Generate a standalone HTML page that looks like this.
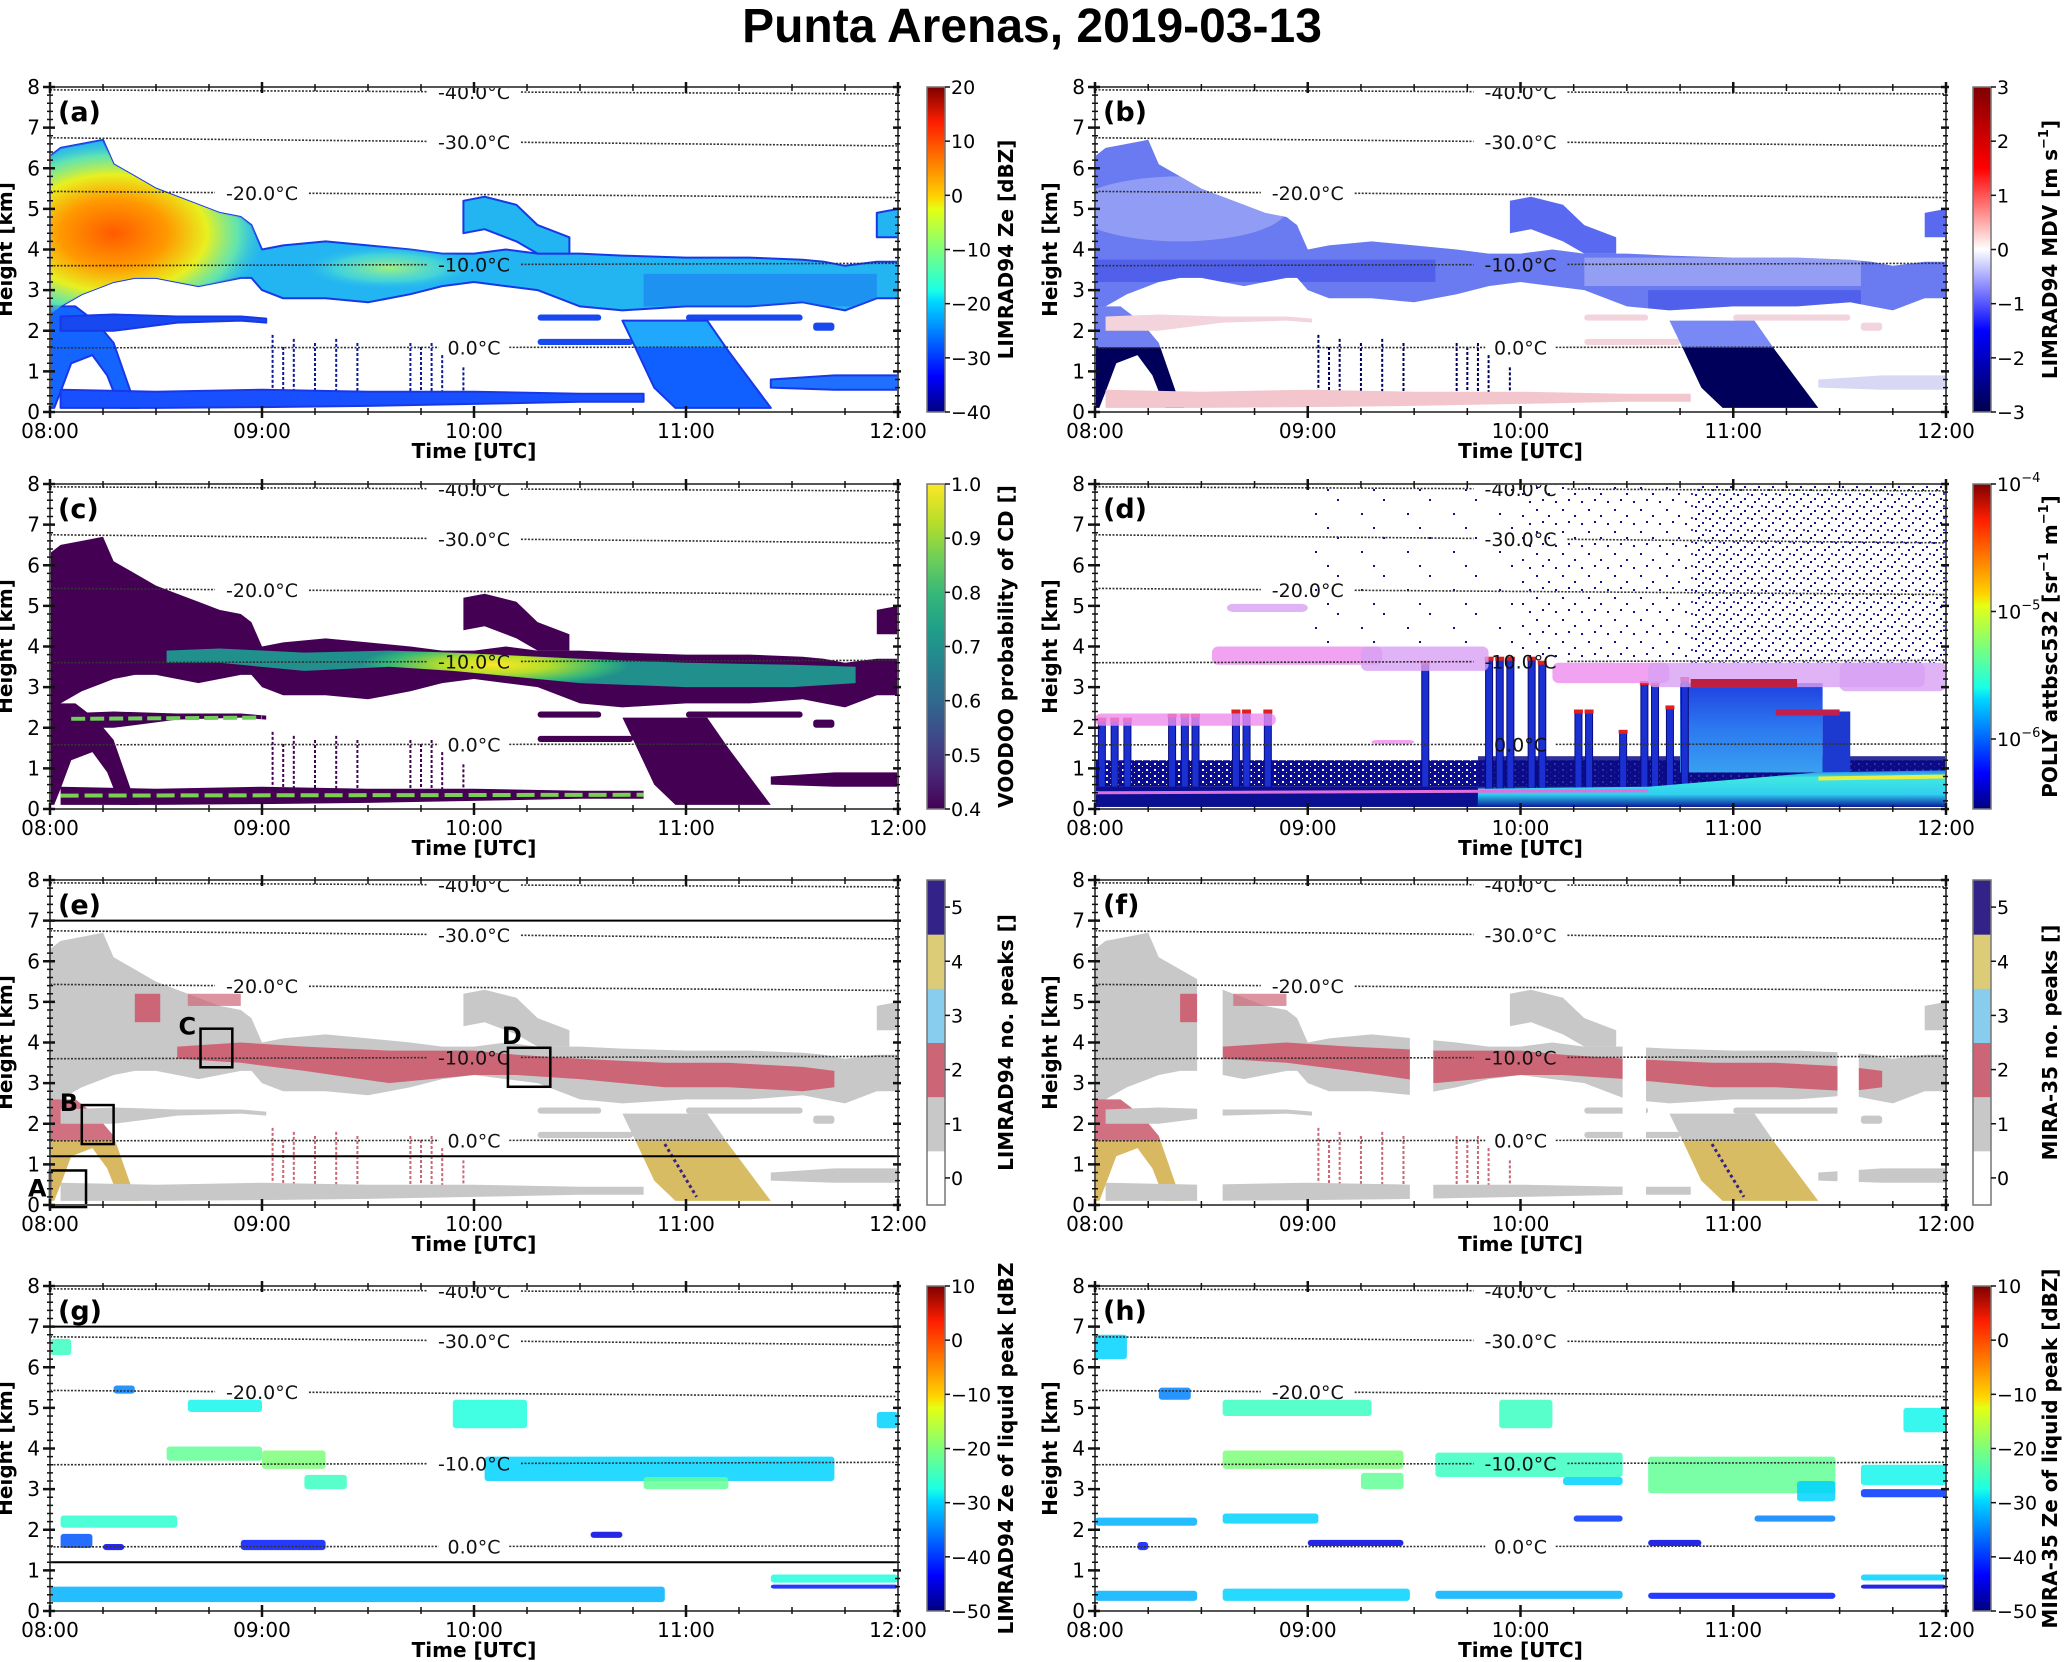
<!DOCTYPE html>
<html><head><meta charset="utf-8">
<style>
html,body{margin:0;padding:0;background:#fff;}
svg{display:block;}
text{font-family:"DejaVu Sans","Liberation Sans",sans-serif;}
</style></head>
<body>
<svg id="fig" xmlns="http://www.w3.org/2000/svg" width="2067" height="1662" viewBox="0 0 2067 1662">
<defs id="defs">
<pattern id="noiseSparse" width="46" height="38" patternUnits="userSpaceOnUse"><rect x="3" y="5" width="2" height="2" fill="#10108a"/><rect x="27" y="19" width="2" height="2" fill="#10108a"/><rect x="39" y="33" width="2" height="2" fill="#10108a"/></pattern>
<pattern id="noiseMed" width="26" height="22" patternUnits="userSpaceOnUse"><rect x="2" y="3" width="2" height="2" fill="#10108a"/><rect x="14" y="9" width="2" height="2" fill="#10108a"/><rect x="21" y="17" width="2" height="2" fill="#10108a"/><rect x="8" y="15" width="2" height="2" fill="#10108a"/></pattern>
<pattern id="noiseDense" width="14" height="12" patternUnits="userSpaceOnUse"><rect x="1" y="2" width="2" height="2" fill="#10108a"/><rect x="8" y="6" width="2" height="2" fill="#10108a"/><rect x="4" y="9" width="2" height="2" fill="#10108a"/><rect x="11" y="1" width="2" height="2" fill="#3a3ad0"/></pattern>
<pattern id="noiseLow" width="8" height="6" patternUnits="userSpaceOnUse"><rect x="0" y="0" width="8" height="6" fill="#0c0c90"/><rect x="2" y="1" width="2" height="2" fill="#fff"/><rect x="6" y="4" width="1" height="1" fill="#fff"/></pattern>
</defs>
<text x="1032" y="42" text-anchor="middle" font-size="48" font-weight="bold" style="font-family:'Liberation Sans',sans-serif">Punta Arenas, 2019-03-13</text>
</svg>
<script>
// ---------- data ----------
const timeTickLabels = ['08:00','09:00','10:00','11:00','12:00'];
const heightTicks = [0,1,2,3,4,5,6,7,8];
const tempLabels = ['-40.0°C','-30.0°C','-20.0°C','-10.0°C','0.0°C'];
const tempHLeft = [7.93,6.75,5.43,3.60,1.58];
const tempHRight = [7.83,6.55,5.28,3.66,1.60];
const tempLabelT = [2.0,2.0,1.0,2.0,2.0];

const upperCloudT = [0.00,0.05,0.15,0.25,0.30,0.40,0.50,0.60,0.70,0.80,0.90,0.95,1.00,1.10,1.30,1.50,1.70,1.85,2.00,2.15,2.30,2.50,2.70,3.00,3.30,3.55,3.65,3.75,3.90,4.00];
const upperCloudTop = [6.3,6.5,6.6,6.7,6.1,5.8,5.5,5.3,5.1,4.9,4.8,4.6,4.0,4.1,4.2,4.1,4.0,3.9,3.9,4.0,3.9,3.9,3.85,3.8,3.8,3.75,3.7,3.6,3.7,3.7];
const upperCloudBase = [2.4,2.6,2.9,3.1,3.2,3.3,3.3,3.2,3.1,3.2,3.3,3.3,3.0,2.8,2.8,2.7,2.9,3.1,3.2,3.1,3.0,2.6,2.5,2.6,2.6,2.7,2.6,2.5,2.8,2.8];
const streakT = [0.00,0.12,0.22,0.30,0.38,0.42,0.33,0.27,0.20,0.10,0.05,0.02,0.00];
const streakH = [2.6,2.6,2.2,1.7,0.5,0.1,0.1,0.9,1.4,1.2,0.5,0.1,0.1];
const midLayerT = [0.05,0.30,0.60,0.90,1.02];
const midLayerTop = [2.35,2.40,2.35,2.35,2.30];
const midLayerBase = [2.00,2.00,2.20,2.25,2.20];
const upperPatchT = [1.95,2.05,2.20,2.30,2.45];
const upperPatchTop = [5.2,5.3,5.1,4.6,4.3];
const upperPatchBase = [4.4,4.5,4.2,3.9,3.9];
const rightPatchT = [3.90,4.00];
const rightPatchTop = [4.9,5.0];
const rightPatchBase = [4.3,4.3];
const precipT = [2.70,3.10,3.20,3.40,2.95,2.85,2.76];
const precipH = [2.25,2.25,1.50,0.10,0.10,0.60,1.60];
const lowLayerT = [0.05,0.50,1.00,1.50,2.00,2.50,2.80];
const lowLayerTop = [0.55,0.50,0.55,0.50,0.50,0.45,0.45];
const lowLayerBase = [0.10,0.10,0.12,0.15,0.20,0.25,0.25];
const lowRightT = [3.40,3.70,4.00];
const lowRightTop = [0.80,0.90,0.90];
const lowRightBase = [0.60,0.55,0.55];
const midPatchT0 = [2.30,3.00,2.30,3.60];
const midPatchT1 = [2.60,3.55,2.75,3.70];
const midPatchH0 = [2.25,2.25,1.65,2.00];
const midPatchH1 = [2.40,2.40,1.80,2.20];
const virgaT = [1.05,1.10,1.15,1.25,1.35,1.45,1.70,1.75,1.80,1.85,1.95];
const virgaTop = [1.9,1.6,1.8,1.7,1.8,1.7,1.7,1.6,1.7,1.4,1.1];

const cdBandT = [0.55,0.80,1.20,1.60,1.90,2.10,2.50,3.00,3.50,3.80];
const cdBandTop = [3.90,3.95,3.85,3.90,3.85,3.80,3.70,3.60,3.55,3.50];
const cdBandBase = [3.60,3.60,3.40,3.50,3.40,3.30,3.10,3.00,3.00,3.10];

const peakBandT = [0.60,0.90,1.20,1.60,2.00,2.20,2.50,2.90,3.20,3.55,3.70];
const peakBandTop = [3.9,4.0,3.9,3.8,3.8,3.7,3.6,3.5,3.5,3.4,3.3];
const peakBandBase = [3.6,3.5,3.3,3.0,3.2,3.2,3.1,2.9,2.9,2.8,2.9];
const dataGapT0 = [0.48,1.48,2.48,3.49];
const dataGapT1 = [0.60,1.59,2.59,3.59];
const boxNames = ['A','B','C','D'];
const boxT0 = [0.00,0.15,0.71,2.16];
const boxT1 = [0.17,0.30,0.86,2.36];
const boxH0 = [-0.05,1.50,3.39,2.91];
const boxH1 = [0.85,2.46,4.34,3.87];

const lidarStripeT = [0.03,0.09,0.15,0.36,0.42,0.47,0.66,0.71,0.81,1.55,1.85,1.90,1.95,2.05,2.10,2.27,2.32,2.48,2.58,2.63,2.70,2.77];
const lidarStripeTop = [2.2,2.2,2.2,2.3,2.3,2.3,2.4,2.4,2.4,3.6,3.7,3.7,3.7,3.7,3.6,2.4,2.4,1.9,3.1,3.1,2.5,3.2];
const pinkT0 = [0.55,1.25,2.15,2.60,0.00,0.62,1.30,3.50];
const pinkT1 = [1.35,1.85,2.70,3.90,0.85,1.00,1.50,4.00];
const pinkH0 = [3.55,3.40,3.10,3.00,2.05,4.85,1.60,2.90];
const pinkH1 = [4.00,4.00,3.60,3.60,2.35,5.05,1.70,3.60];

const gPatchT0 = [0.00,0.30,0.65,0.55,1.00,1.20,0.05,0.05,2.05,2.80,1.90,3.90,0.00,3.40,3.40,0.90,2.55,0.25];
const gPatchT1 = [0.10,0.40,1.00,1.00,1.30,1.40,0.60,0.20,3.70,3.20,2.25,4.00,2.90,4.00,4.00,1.30,2.70,0.35];
const gPatchH0 = [6.30,5.35,4.90,3.70,3.50,3.00,2.05,1.55,3.20,3.00,4.50,4.50,0.22,0.70,0.55,1.50,1.80,1.50];
const gPatchH1 = [6.70,5.55,5.20,4.05,3.95,3.35,2.35,1.90,3.80,3.30,5.20,4.90,0.60,0.90,0.65,1.75,1.95,1.65];
const gPatchZe = [-25,-35,-28,-22,-20,-25,-26,-38,-30,-22,-27,-30,-32,-27,-42,-42,-45,-44];

const hPatchT0 = [0.60,0.60,1.25,1.60,2.20,2.60,3.30,3.60,3.60,0.00,0.60,2.25,3.10,0.20,1.00,2.60,0.00,0.60,1.60,2.60,3.60,3.60,1.90,3.80,0.00,0.30];
const hPatchT1 = [1.30,1.45,1.45,2.48,2.48,3.48,3.48,4.00,4.00,0.48,1.05,2.48,3.48,0.25,1.45,2.85,0.48,1.48,2.48,3.48,4.00,4.00,2.15,4.00,0.15,0.45];
const hPatchH0 = [4.80,3.50,3.00,3.30,3.10,2.90,2.70,3.10,2.80,2.10,2.15,2.20,2.20,1.50,1.60,1.60,0.25,0.25,0.30,0.30,0.75,0.55,4.50,4.40,6.20,5.20];
const hPatchH1 = [5.20,3.95,3.40,3.90,3.30,3.80,3.20,3.60,3.00,2.30,2.40,2.35,2.35,1.70,1.75,1.75,0.50,0.55,0.50,0.45,0.90,0.65,5.20,5.00,6.80,5.50];
const hPatchZe = [-25,-20,-22,-25,-30,-22,-30,-28,-40,-32,-30,-40,-35,-42,-45,-45,-32,-30,-32,-42,-30,-45,-25,-28,-30,-35];

const cbTicksA = [-40,-30,-20,-10,0,10,20];
const cbTicksB = [-3,-2,-1,0,1,2,3];
const cbTicksC = [0.4,0.5,0.6,0.7,0.8,0.9,1.0];
const cbTicksD = [-4,-5,-6];
const cbTicksE = [0,1,2,3,4,5];
const cbTicksG = [-50,-40,-30,-20,-10,0,10];

// ---------- helpers ----------
const NS = 'http://www.w3.org/2000/svg';
const svg = document.getElementById('fig');
const defs = document.getElementById('defs');
function mk(tag, attrs, parent){ const e=document.createElementNS(NS,tag); for(const k in attrs) e.setAttribute(k,attrs[k]); parent.appendChild(e); return e; }
const JET = [[0,'#00007f'],[0.11,'#0000ff'],[0.34,'#00d8ff'],[0.375,'#1affe5'],[0.5,'#7dff7a'],[0.625,'#e4ff13'],[0.66,'#ffd400'],[0.89,'#ff1e00'],[1,'#7f0000']];
const SEISMIC = [[0,'#00004c'],[0.25,'#0000ff'],[0.5,'#ffffff'],[0.75,'#ff0000'],[1,'#7f0000']];
const VIRIDIS = [[0,'#440154'],[0.11,'#482878'],[0.22,'#3e4989'],[0.33,'#31688e'],[0.44,'#26828e'],[0.55,'#1f9e89'],[0.66,'#35b779'],[0.77,'#6ece58'],[0.88,'#b5de2b'],[1,'#fde725']];
const PEAKS = ['#ffffff','#c8c8c8','#cc6677','#88ccee','#ddcc77','#332288'];
function hex2rgb(h){return [parseInt(h.slice(1,3),16),parseInt(h.slice(3,5),16),parseInt(h.slice(5,7),16)];}
function cmap(stops,f){ f=Math.max(0,Math.min(1,f)); for(let i=1;i<stops.length;i++){ if(f<=stops[i][0]){ const a=stops[i-1],b=stops[i]; const u=(f-a[0])/(b[0]-a[0]||1); const ca=hex2rgb(a[1]),cb=hex2rgb(b[1]); return 'rgb('+ca.map((v,k)=>Math.round(v+(cb[k]-v)*u)).join(',')+')'; } } return stops[stops.length-1][1]; }
let gradN=0;
function vGrad(stops){ const id='vg'+(gradN++); const g=mk('linearGradient',{id:id,x1:0,y1:1,x2:0,y2:0},defs); stops.forEach(s=>mk('stop',{offset:s[0],'stop-color':s[1]},g)); return 'url(#'+id+')'; }
function radGrad(cx,cy,r,stops,sx){ const id='rg'+(gradN++); const g=mk('radialGradient',{id:id,gradientUnits:'userSpaceOnUse',cx:cx,cy:cy,r:r,gradientTransform:'translate('+cx+' '+cy+') scale('+sx+' 1) translate('+(-cx)+' '+(-cy)+')'},defs); stops.forEach(s=>mk('stop',{offset:s[0],'stop-color':s[1],'stop-opacity':s.length>2?s[2]:1},g)); return 'url(#'+id+')'; }
function ptsStr(p){ return p.map(q=>q[0].toFixed(1)+','+q[1].toFixed(1)).join(' '); }
function bandPts(P,T,top,base){ const a=T.map((t,i)=>[P.X(t),P.Y(top[i])]); const b=T.map((t,i)=>[P.X(t),P.Y(base[i])]).reverse(); return a.concat(b); }
function vertPts(P,T,H){ return T.map((t,i)=>[P.X(t),P.Y(H[i])]); }
function poly(parent,pts,fill,stroke,sw){ return mk('polygon',{points:ptsStr(pts),fill:fill,stroke:stroke||'none','stroke-width':sw||0,'stroke-linejoin':'round'},parent); }

const rowTops=[87,484,880,1286];
const PH=325;
function makePanel(letter,col,row){
  const x0=col?1095:50, x1=col?1946:898, y0=rowTops[row], y1=y0+PH;
  const P={x0,x1,y0,y1,X:t=>x0+t/4*(x1-x0),Y:h=>y1-h/8*(y1-y0)};
  P.g=mk('g',{},svg);
  
  
  const cp=mk('clipPath',{id:'clip-'+letter},defs);
  mk('rect',{x:x0,y:y0,width:x1-x0,height:y1-y0},cp);
  P.c=mk('g',{'clip-path':'url(#clip-'+letter+')'},P.g);
  
  
  P.letter=letter; P.col=col;
  return P;
}
function tempLines(P){
  const g=mk('g',{},P.c);
  
  
  tempLabels.forEach((lab,i)=>{
    const yAt=t=>P.Y(tempHLeft[i]+(tempHRight[i]-tempHLeft[i])*t/4);
    const lx=P.X(tempLabelT[i]);
    const tx=mk('text',{x:lx,y:yAt(tempLabelT[i])+7,'text-anchor':'middle','font-size':19,fill:'#111'},g);
    tx.textContent=lab;
    
    
    const w=lab.length*11.7/2+6;
    const l1=mk('line',{x1:P.x0,y1:yAt(0),x2:lx-w,y2:yAt((lx-w-P.x0)/(P.x1-P.x0)*4),stroke:'#333','stroke-width':1.6,'stroke-dasharray':'2,1.5'},g);
    
    
    const l2=mk('line',{x1:lx+w,y1:yAt((lx+w-P.x0)/(P.x1-P.x0)*4),x2:P.x1,y2:yAt(4),stroke:'#333','stroke-width':1.6,'stroke-dasharray':'2,1.5'},g);
    
    
  });
}
function axes(P){
  const {x0,x1,y0,y1}=P;
  const g=mk('g',{},P.g);
  
  
  mk('rect',{x:x0,y:y0,width:x1-x0,height:y1-y0,fill:'none',stroke:'#555','stroke-width':2},g);
  for(let q=0;q<=16;q++){ const t=q/4, x=P.X(t), maj=q%4===0;
    mk('line',{x1:x,y1:y1-(maj?6:4),x2:x,y2:y1+(maj?6:3),stroke:'#111','stroke-width':maj?2.5:1.5},g);
    mk('line',{x1:x,y1:y0-(maj?5:3),x2:x,y2:y0+(maj?6:4),stroke:'#111','stroke-width':maj?2.5:1.5},g);
  }
  timeTickLabels.forEach((lab,i)=>{ const t=mk('text',{x:P.X(i),y:y1+26,'text-anchor':'middle','font-size':20},g); t.textContent=lab;
    
     });
  for(let q=0;q<=40;q++){ const h=q/5, y=P.Y(h), maj=q%5===0;
    mk('line',{x1:x0-(maj?7:3),y1:y,x2:x0+(maj?5:3),y2:y,stroke:'#111','stroke-width':maj?2.5:1.5},g);
    mk('line',{x1:x1-(maj?5:3),y1:y,x2:x1+(maj?3:2),y2:y,stroke:'#111','stroke-width':maj?2.5:1.5},g);
  }
  heightTicks.forEach(h=>{ const t=mk('text',{x:x0-10,y:P.Y(h)+7,'text-anchor':'end','font-size':20},g); t.textContent=String(h);
    
     });
  const xl=mk('text',{x:(x0+x1)/2,y:y1+46,'text-anchor':'middle','font-size':20,'font-weight':'bold'},g); xl.textContent='Time [UTC]';
  
  
  const yx=x0-38, yc=(y0+y1)/2;
  const yl=mk('text',{x:yx,y:yc,'text-anchor':'middle','font-size':20,'font-weight':'bold',transform:'rotate(-90 '+yx+' '+yc+')'},g); yl.textContent='Height [km]';
  
  
  const pl=mk('text',{x:x0+8,y:y0+34,'font-size':27,'font-weight':'bold'},g); pl.textContent='('+P.letter+')';
  
  
}
function colorbar(P,fill,ticks,pos,labels,title){
  const cx0=P.col?1973:927, w=18, y0=P.y0, y1=P.y1;
  const g=mk('g',{},svg);
  
  
  if(typeof fill==='string') mk('rect',{x:cx0,y:y0,width:w,height:y1-y0,fill:fill},g);
  else fill.forEach((c,i)=>mk('rect',{x:cx0,y:y1-(i+1)*(y1-y0)/fill.length,width:w,height:(y1-y0)/fill.length+0.5,fill:c},g));
  mk('rect',{x:cx0,y:y0,width:w,height:y1-y0,fill:'none',stroke:'#777','stroke-width':1.5},g);
  ticks.forEach((v,i)=>{ const y=y1-pos(v)*(y1-y0);
    mk('line',{x1:cx0+w,y1:y,x2:cx0+w+5,y2:y,stroke:'#111','stroke-width':1.5},g);
    const t=mk('text',{x:cx0+w+6,y:y+7,'font-size':19},g);
    const lab=labels[i];
    if(Array.isArray(lab)){ t.textContent=lab[0]; const s=mk('tspan',{dy:-9,'font-size':13},t); s.textContent=lab[1]; }
    else t.textContent=lab;
    
    
  });
  const tx=P.col?2057:1013, tc=(y0+y1)/2;
  const t=mk('text',{x:tx,y:tc,'text-anchor':'middle','font-size':20,'font-weight':'bold',transform:'rotate(-90 '+tx+' '+tc+')'},g);
  title.forEach((part,i)=>{ const s=mk('tspan',i%2?{dy:-9,'font-size':13}:{dy:i?9:0},t); s.textContent=part; });
  
  
}
const fmtMinus=v=>(v<0?'\u2212':'')+Math.abs(v);

// ---------- shared radar cloud drawing ----------
function radarClouds(P,S){
  const c=P.c;
  const main=poly(c,bandPts(P,upperCloudT,upperCloudTop,upperCloudBase),S.main,S.edge,S.ew);
  
  
  const st=poly(c,vertPts(P,streakT,streakH),S.streak,S.edge,S.ew);
  
  
  const ml=poly(c,bandPts(P,midLayerT,midLayerTop,midLayerBase),S.mid,S.edge,S.ew);
  
  
  const up=poly(c,bandPts(P,upperPatchT,upperPatchTop,upperPatchBase),S.main2||S.main,S.edge,S.ew);
  
  
  const rp=poly(c,bandPts(P,rightPatchT,rightPatchTop,rightPatchBase),S.main2||S.main,S.edge,S.ew);
  
  
  midPatchT0.forEach((t0,i)=>{ const r=mk('rect',{x:P.X(t0),y:P.Y(midPatchH1[i]),width:P.X(midPatchT1[i])-P.X(t0),height:P.Y(midPatchH0[i])-P.Y(midPatchH1[i]),fill:S.mid,rx:3},c);
    
     });
  virgaT.forEach((t,i)=>{ const l=mk('line',{x1:P.X(t),y1:P.Y(virgaTop[i]),x2:P.X(t),y2:P.Y(0.3),stroke:S.virga,'stroke-width':2,'stroke-dasharray':'3,2'},c);
    
     });
  const pr=poly(c,vertPts(P,precipT,precipH),S.precip,S.edge,S.ew);
  
  
  const ll=poly(c,bandPts(P,lowLayerT,lowLayerTop,lowLayerBase),S.low,S.edge,S.ew);
  
  
  const lr=poly(c,bandPts(P,lowRightT,lowRightTop,lowRightBase),S.lowR||S.low,S.edge,S.ew);
  
  
}
function precipGrad(P,top,bottom){ const id='pg'+(gradN++); const g=mk('linearGradient',{id:id,gradientUnits:'userSpaceOnUse',x1:0,y1:P.Y(2.25),x2:0,y2:P.Y(0)},defs);
  const f=(2.25-1.6)/2.25; [[0,top],[f,top],[f+0.01,bottom],[1,bottom]].forEach(s=>mk('stop',{offset:s[0],'stop-color':s[1]},g)); return 'url(#'+id+')'; }

// ---------- panel a ----------
(function(){
  const P=makePanel('a',0,0);
  radarClouds(P,{main:'#23b4f2',edge:'#1838e8',ew:2,streak:'#1464ff',mid:'#1848f0',precip:precipGrad(P,'#20a8ff','#1060ff'),low:'#1850ff',lowR:'#2070ff',virga:'#0a1a9a'});
  const cp=mk('clipPath',{id:'core-a'},defs);
  poly(cp,bandPts(P,upperCloudT,upperCloudTop,upperCloudBase),'#000');
  const gcore=mk('g',{'clip-path':'url(#core-a)'},P.c);
  
  
  mk('ellipse',{cx:P.X(0.3),cy:P.Y(4.4),rx:P.X(0.75)-P.X(0),ry:P.Y(2.0)-P.Y(4.4),fill:radGrad(P.X(0.3),P.Y(4.4),P.Y(2.0)-P.Y(4.4),[[0,'#ff5a00'],[0.35,'#ff9a00'],[0.6,'#e8f020'],[0.8,'#70f0a0',0.8],[1,'#23b4f2',0]],1.6)},gcore);
  mk('ellipse',{cx:P.X(1.6),cy:P.Y(3.55),rx:P.X(0.7)-P.X(0),ry:P.Y(3)-P.Y(3.55),fill:radGrad(P.X(1.6),P.Y(3.55),P.Y(3)-P.Y(3.55),[[0,'#a0f080'],[0.6,'#50e0d0',0.7],[1,'#23b4f2',0]],4)},gcore);
  mk('rect',{x:P.X(2.8),y:P.Y(3.4),width:P.X(3.9)-P.X(2.8),height:P.Y(2.6)-P.Y(3.4),fill:'#1868f0',opacity:0.45},gcore);
  tempLines(P); axes(P);
  colorbar(P,vGrad(JET),cbTicksA,v=>(v+40)/60,cbTicksA.map(fmtMinus),['LIMRAD94 Ze [dBZ]']);
})();
// ---------- panel b ----------
(function(){
  const P=makePanel('b',1,0);
  radarClouds(P,{main:'#6a7af0',main2:'#5a6af0',edge:'none',ew:0,streak:precipGrad(P,'#7080f0','#00005a'),mid:'#f3d4dc',precip:precipGrad(P,'#7888f4','#00005a'),low:'#f2c6cc',lowR:'#d8d8f4',virga:'#000060'});
  const cp=mk('clipPath',{id:'core-b'},defs);
  poly(cp,bandPts(P,upperCloudT,upperCloudTop,upperCloudBase),'#000');
  const gc=mk('g',{'clip-path':'url(#core-b)'},P.c);
  
  
  mk('ellipse',{cx:P.X(0.4),cy:P.Y(5.0),rx:P.X(0.5)-P.X(0),ry:P.Y(4.2)-P.Y(5.0),fill:'#b8c0f8',opacity:0.5},gc);
  mk('rect',{x:P.X(0),y:P.Y(3.75),width:P.X(1.6)-P.X(0),height:P.Y(3.2)-P.Y(3.75),fill:'#2030e0',opacity:0.35},gc);
  mk('rect',{x:P.X(2.6),y:P.Y(3.0),width:P.X(3.6)-P.X(2.6),height:P.Y(2.5)-P.Y(3.0),fill:'#2030e0',opacity:0.35},gc);
  mk('rect',{x:P.X(2.3),y:P.Y(3.8),width:P.X(3.6)-P.X(2.3),height:P.Y(3.1)-P.Y(3.8),fill:'#c8ccf8',opacity:0.45},gc);
  tempLines(P); axes(P);
  colorbar(P,vGrad(SEISMIC),cbTicksB,v=>(v+3)/6,cbTicksB.map(fmtMinus),['LIMRAD94 MDV [m s','\u22121',']']);
})();
// ---------- panel c ----------
(function(){
  const P=makePanel('c',0,1);
  radarClouds(P,{main:'#440154',edge:'none',ew:0,streak:'#440154',mid:'#440154',precip:'#440154',low:'#440154',virga:'#440154'});
  const b=poly(P.c,bandPts(P,cdBandT,cdBandTop,cdBandBase),radGrad(P.X(2.1),P.Y(3.55),P.Y(3.0)-P.Y(3.55),[[0,'#fde725'],[0.4,'#b5de2b'],[0.8,'#35b779'],[1,'#21908d']],6),'none');
  
  
  const m=mk('line',{x1:P.X(0.1),y1:P.Y(2.22),x2:P.X(1.0),y2:P.Y(2.25),stroke:'#6ece58','stroke-width':4,'stroke-dasharray':'14,5'},P.c);
  
  
  const l=mk('line',{x1:P.X(0.05),y1:P.Y(0.33),x2:P.X(2.8),y2:P.Y(0.35),stroke:'#7ad151','stroke-width':4,'stroke-dasharray':'18,6'},P.c);
  
  
  tempLines(P); axes(P);
  colorbar(P,vGrad(VIRIDIS),cbTicksC,v=>(v-0.4)/0.6,cbTicksC.map(v=>v.toFixed(1)),['VOODOO probability of CD []']);
})();
// ---------- panel d ----------
(function(){
  const P=makePanel('d',1,1), c=P.c;
  const nz=[['noiseSparse',1.0,2.0,3.9],['noiseMed',2.0,2.8,3.7],['noiseDense',2.8,4.0,3.6]];
  nz.forEach(n=>{ const r=mk('rect',{x:P.X(n[1]),y:P.Y(8),width:P.X(n[2])-P.X(n[1]),height:P.Y(n[3])-P.Y(8),fill:'url(#'+n[0]+')'},c);
    
     });
  const ln=mk('rect',{x:P.X(0),y:P.Y(1.2),width:P.X(4)-P.X(0),height:P.Y(0.55)-P.Y(1.2),fill:'url(#noiseLow)'},c);
  
  
  const db=mk('rect',{x:P.X(1.8),y:P.Y(1.3),width:P.X(4)-P.X(1.8),height:P.Y(0.5)-P.Y(1.3),fill:'#0c0c88',opacity:0.85},c);
  
  
  const bl=mk('rect',{x:P.X(2.75),y:P.Y(3.1),width:P.X(3.42)-P.X(2.75),height:P.Y(0.9)-P.Y(3.1),fill:vGrad([[0,'#38a0f0'],[0.5,'#2c78f0'],[1,'#2040e0']])},c);
  
  
  const bl2=mk('rect',{x:P.X(3.42),y:P.Y(2.4),width:P.X(3.55)-P.X(3.42),height:P.Y(0.9)-P.Y(2.4),fill:'#1c3ad0'},c);
  
  
  lidarStripeT.forEach((t,i)=>{ const r=mk('rect',{x:P.X(t)-3,y:P.Y(lidarStripeTop[i]),width:7,height:P.Y(0.5)-P.Y(lidarStripeTop[i]),fill:'#1a30d0',stroke:'#0a0a80','stroke-width':1},c);
    
    
    const d=mk('rect',{x:P.X(t)-4,y:P.Y(lidarStripeTop[i])-2,width:9,height:4,fill:'#e02020'},c);
    
     });
  pinkT0.forEach((t0,i)=>{ const r=mk('rect',{x:P.X(t0),y:P.Y(pinkH1[i]),width:P.X(pinkT1[i])-P.X(t0),height:P.Y(pinkH0[i])-P.Y(pinkH1[i]),rx:6,fill:i%2?'#d8a0f4':'#ee8cee',opacity:0.8},c);
    
     });
  const rl=mk('rect',{x:P.X(2.8),y:P.Y(3.2),width:P.X(3.3)-P.X(2.8),height:P.Y(3.0)-P.Y(3.2),fill:'#c02040'},c);
  
  
  const rl2=mk('rect',{x:P.X(3.2),y:P.Y(2.45),width:P.X(3.5)-P.X(3.2),height:P.Y(2.3)-P.Y(2.45),fill:'#c02050'},c);
  
  
  const cy=poly(c,[[P.X(1.8),P.Y(0.5)],[P.X(2.6),P.Y(0.55)],[P.X(3.4),P.Y(0.9)],[P.X(4),P.Y(0.95)],[P.X(4),P.Y(0.05)],[P.X(1.8),P.Y(0.05)]],vGrad([[0,'#0a1a9a'],[0.35,'#30d0f0'],[0.8,'#40e8e0'],[1,'#2a80f0']]));
  
  
  const nb=mk('rect',{x:P.X(0),y:P.Y(0.55),width:P.X(1.8)-P.X(0),height:P.Y(0.05)-P.Y(0.55),fill:'#0a1090'},c);
  
  
  const pl=mk('line',{x1:P.X(0),y1:P.Y(0.4),x2:P.X(2.6),y2:P.Y(0.45),stroke:'#e070e0','stroke-width':3},c);
  
  
  const yl=mk('line',{x1:P.X(3.4),y1:P.Y(0.75),x2:P.X(4),y2:P.Y(0.8),stroke:'#e8f040','stroke-width':4},c);
  
  
  tempLines(P); axes(P);
  const decPx=127.5;
  colorbar(P,vGrad(JET),cbTicksD,v=>1-(-4-v)*decPx/PH,cbTicksD.map(v=>['10','\u2212'+Math.abs(v)]),['POLLY attbsc532 [sr','\u22121',' m','\u22121',']']);
})();
// ---------- panels e,f ----------
function peaksPanel(letter,col,gaps,lines){
  const P=makePanel(letter,col,2);
  radarClouds(P,{main:'#c8c8c8',edge:'none',ew:0,streak:precipGrad(P,'#d07080','#d8b860'),mid:'#c8c8c8',precip:precipGrad(P,'#c8c8c8','#d8bc64'),low:'#c8c8c8',virga:'#cc6677'});
  const b=poly(P.c,bandPts(P,peakBandT,peakBandTop,peakBandBase),'#cc6677');
  
  
  const r1=mk('rect',{x:P.X(0.4),y:P.Y(5.2),width:P.X(0.52)-P.X(0.4),height:P.Y(4.5)-P.Y(5.2),fill:'#cc6677'},P.c);
  
  
  const r2=mk('rect',{x:P.X(0.65),y:P.Y(5.2),width:P.X(0.9)-P.X(0.65),height:P.Y(4.9)-P.Y(5.2),fill:'#cc6677',opacity:0.7},P.c);
  
  
  const ps=mk('line',{x1:P.X(2.9),y1:P.Y(1.5),x2:P.X(3.05),y2:P.Y(0.2),stroke:'#332288','stroke-width':3,'stroke-dasharray':'3,3'},P.c);
  
  
  if(gaps) dataGapT0.forEach((t0,i)=>{ const r=mk('rect',{x:P.X(t0),y:P.y0,width:P.X(dataGapT1[i])-P.X(t0),height:PH,fill:'#fff'},P.c);
    
     });
  tempLines(P);
  if(lines){ [7,1.2].forEach(h=>{ const l=mk('line',{x1:P.x0,y1:P.Y(h),x2:P.x1,y2:P.Y(h),stroke:'#000','stroke-width':2},P.c);
    
     });
    boxNames.forEach((n,i)=>{ const x=P.X(boxT0[i]), y=P.Y(boxH1[i]), w=P.X(boxT1[i])-x, h=P.Y(boxH0[i])-y;
      const r=mk('rect',{x:x,y:y,width:w,height:h,fill:'none',stroke:'#000','stroke-width':2.5},P.g);
      
      
      const t=mk('text',{x:n==='D'?x-6:x-22,y:n==='D'?y-4:(n==='A'?y+26:y+6),'font-size':24,'font-weight':'bold'},P.g);
      t.textContent=n;
      
       }); }
  axes(P);
  colorbar(P,PEAKS,cbTicksE,v=>(v+0.5)/6,cbTicksE.map(String),[col?'MIRA-35 no. peaks []':'LIMRAD94 no. peaks []']);
}
peaksPanel('e',0,false,true);
peaksPanel('f',1,true,false);
// ---------- panels g,h ----------
function liquidPanel(letter,col,T0,T1,H0,H1,Z,lines,title){
  const P=makePanel(letter,col,3);
  T0.forEach((t0,i)=>{ const r=mk('rect',{x:P.X(t0),y:P.Y(H1[i]),width:P.X(T1[i])-P.X(t0),height:P.Y(H0[i])-P.Y(H1[i]),fill:cmap(JET,(Z[i]+50)/60),rx:3,opacity:0.85},P.c);
    
     });
  tempLines(P);
  if(lines) [7,1.2].forEach(h=>{ const l=mk('line',{x1:P.x0,y1:P.Y(h),x2:P.x1,y2:P.Y(h),stroke:'#000','stroke-width':2},P.c);
    
     });
  axes(P);
  colorbar(P,vGrad(JET),cbTicksG,v=>(v+50)/60,cbTicksG.map(fmtMinus),[title]);
}
liquidPanel('g',0,gPatchT0,gPatchT1,gPatchH0,gPatchH1,gPatchZe,true,'LIMRAD94 Ze of liquid peak [dBZ');
liquidPanel('h',1,hPatchT0,hPatchT1,hPatchH0,hPatchH1,hPatchZe,false,'MIRA-35 Ze of liquid peak [dBZ]');
</script>
</body></html>
